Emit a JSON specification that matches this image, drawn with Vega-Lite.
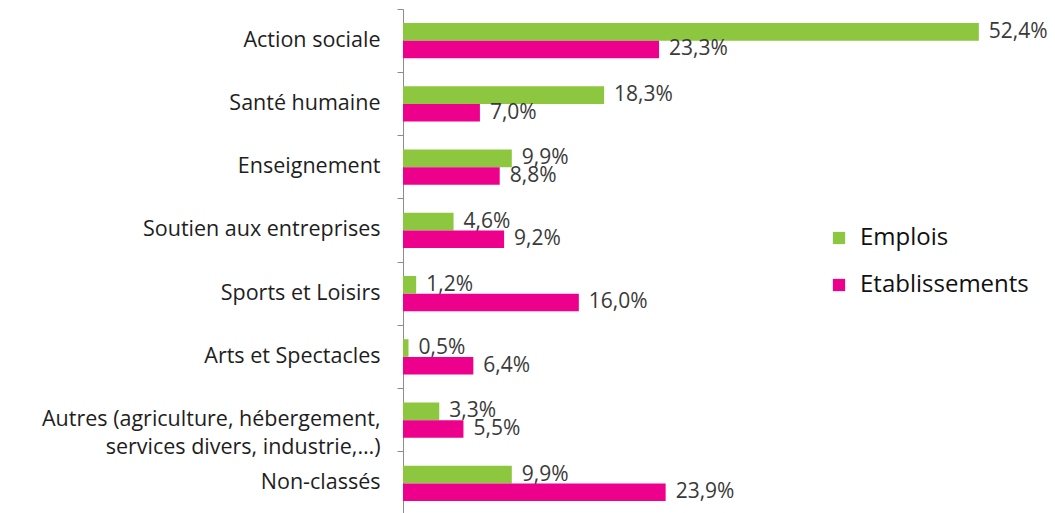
{
  "$schema": "https://vega.github.io/schema/vega-lite/v6.json",
  "width": 652,
  "height": 506,
  "autosize": {"type": "none"},
  "padding": {"left": 403, "top": 9, "right": 0, "bottom": 0},
  "background": "white",
  "config": {"view": {"stroke": null}, "font": "Open Sans"},
  "data": {
    "values": [
      {"cat": "Action sociale", "serie": "Emplois", "v": 52.4},
      {"cat": "Action sociale", "serie": "Etablissements", "v": 23.3},
      {"cat": "Santé humaine", "serie": "Emplois", "v": 18.3},
      {"cat": "Santé humaine", "serie": "Etablissements", "v": 7.0},
      {"cat": "Enseignement", "serie": "Emplois", "v": 9.9},
      {"cat": "Enseignement", "serie": "Etablissements", "v": 8.8},
      {"cat": "Soutien aux entreprises", "serie": "Emplois", "v": 4.6},
      {"cat": "Soutien aux entreprises", "serie": "Etablissements", "v": 9.2},
      {"cat": "Sports et Loisirs", "serie": "Emplois", "v": 1.2},
      {"cat": "Sports et Loisirs", "serie": "Etablissements", "v": 16.0},
      {"cat": "Arts et Spectacles", "serie": "Emplois", "v": 0.5},
      {"cat": "Arts et Spectacles", "serie": "Etablissements", "v": 6.4},
      {"cat": "Autres (agriculture, hébergement, services divers, industrie,…)", "serie": "Emplois", "v": 3.3},
      {"cat": "Autres (agriculture, hébergement, services divers, industrie,…)", "serie": "Etablissements", "v": 5.5},
      {"cat": "Non-classés", "serie": "Emplois", "v": 9.9},
      {"cat": "Non-classés", "serie": "Etablissements", "v": 23.9}
    ]
  },
  "transform": [
    {"calculate": "replace(format(datum.v, '.1f'), '.', ',') + '%'", "as": "lbl"}
  ],
  "encoding": {
    "y": {
      "field": "cat",
      "type": "nominal",
      "sort": null,
      "title": null,
      "scale": {"paddingInner": 0, "paddingOuter": 0},
      "axis": {
        "bandPosition": 0,
        "labelFontSize": 21.5,
        "labelColor": "#1e1e1e",
        "labelPadding": 17,
        "labelLimit": 400,
        "tickSize": 6,
        "tickColor": "#8c8c8c",
        "domainColor": "#8c8c8c",
        "labelLineHeight": 28,
        "labelExpr": "indexof(datum.label, 'Autres') == 0 ? ['Autres (agriculture, hébergement,', 'services divers, industrie,…)'] : datum.label"
      }
    },
    "yOffset": {
      "field": "serie",
      "type": "nominal",
      "sort": ["Emplois", "Etablissements"],
      "scale": {"paddingInner": 0, "paddingOuter": 0.79}
    },
    "x": {
      "field": "v",
      "type": "quantitative",
      "scale": {"domain": [0, 59.33], "nice": false},
      "axis": null
    }
  },
  "layer": [
    {
      "mark": {"type": "bar"},
      "encoding": {
        "color": {
          "field": "serie",
          "type": "nominal",
          "sort": ["Emplois", "Etablissements"],
          "scale": {"domain": ["Emplois", "Etablissements"], "range": ["#8DC63F", "#EC008C"]},
          "legend": {
            "title": null,
            "orient": "none",
            "legendX": 424,
            "legendY": 217,
            "symbolType": "square",
            "symbolSize": 150,
            "symbolStrokeWidth": 0,
            "symbolOpacity": 1,
            "labelFontSize": 24,
            "labelColor": "#111111",
            "labelOffset": 9,
            "rowPadding": 23,
            "labelLimit": 300
          }
        }
      }
    },
    {
      "mark": {"type": "text", "align": "left", "baseline": "middle", "dx": 10, "fontSize": 21, "color": "#3a3a3a"},
      "encoding": {"text": {"field": "lbl"}}
    }
  ]
}
